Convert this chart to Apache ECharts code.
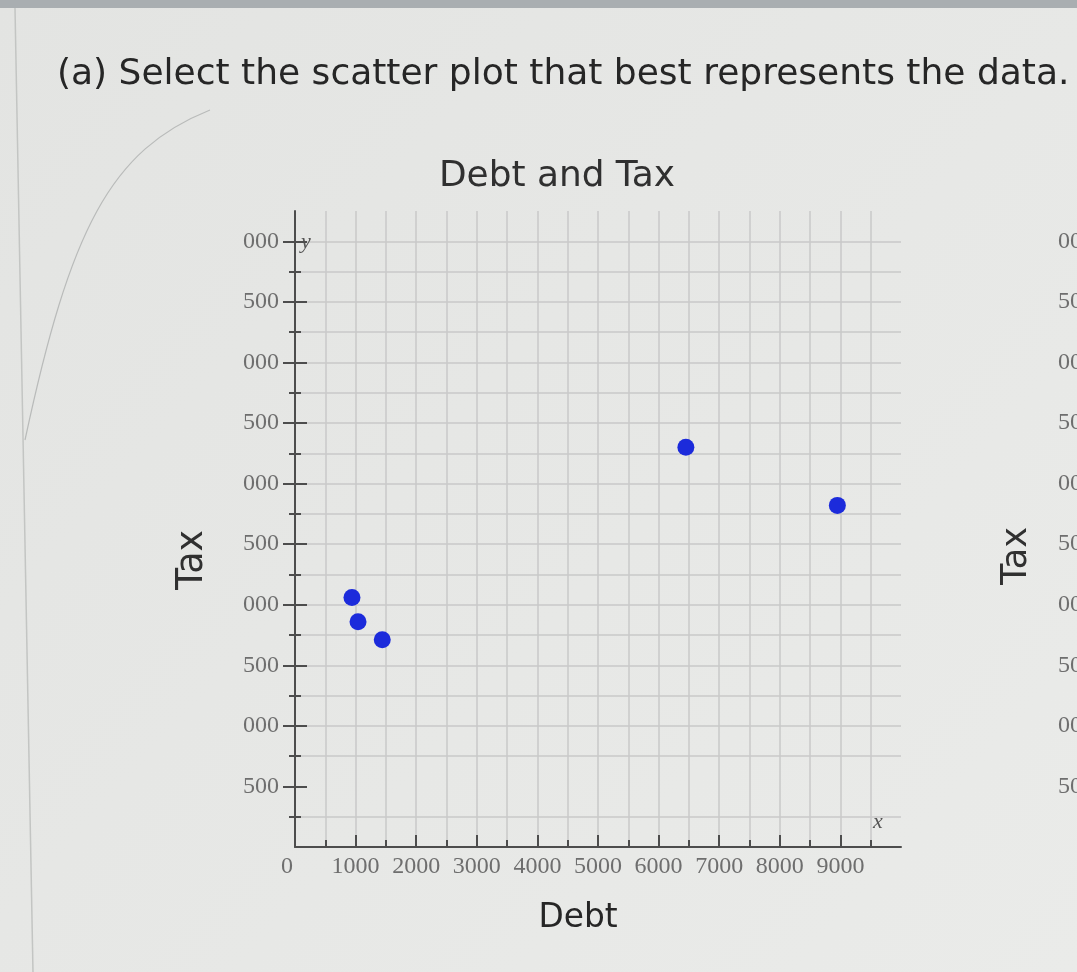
<!DOCTYPE html>
<html>
<head>
<meta charset="utf-8">
<script src="https://cdn.jsdelivr.net/npm/echarts@6/dist/echarts.min.js"></script>
<style>
  html, body { margin: 0; padding: 0; background: #e6e7e5; }
  #chart { width: 1077px; height: 972px; }
</style>
</head>
<body>
<div id="chart"></div>
<script>
// ---- data ----
const debt = [940, 1040, 1440, 6450, 8950];
const tax  = [2060, 1860, 1710, 3300, 2820];
const headingText = '(a) Select the scatter plot that best represents the data.';
const chartTitle = 'Debt and Tax';
const xAxisName = 'Debt';
const yAxisName = 'Tax';
const xRange = [0, 10000];
const yRange = [0, 5250];
const xMajorTicks = [1000, 2000, 3000, 4000, 5000, 6000, 7000, 8000, 9000];
const yMajorTicks = [500, 1000, 1500, 2000, 2500, 3000, 3500, 4000, 4500, 5000];

// ---- helpers ----
const sans = '"DejaVu Sans", Verdana, sans-serif';
const serif = '"Liberation Serif", "Times New Roman", serif';
const ctx = document.createElement('canvas').getContext('2d');
function fit(text, family, target) {
  ctx.font = '100px ' + family;
  return 100 * target / ctx.measureText(text).width;
}
const gridColor = '#c9c9c9';
const axisColor = '#4d4d4d';
const labelColor = '#6e6e6e';

function yLabel(v) {
  if (v === 0 || v % 500 !== 0) return '';
  return String(v).slice(-3);
}
function xLabel(v) {
  if (v === 0) return '{z|0}';
  if (v % 1000 !== 0 || v >= 10000) return '';
  return String(v);
}

const data = debt.map((d, i) => [d, tax[i]]);

const chart = echarts.init(document.getElementById('chart'), null, { renderer: 'canvas' });

const yBase = {
  type: 'value', min: yRange[0], max: yRange[1], interval: 500,
};

chart.setOption({
  backgroundColor: {
    type: 'linear', x: 0, y: 0, x2: 1, y2: 1,
    colorStops: [{ offset: 0, color: '#e3e4e2' }, { offset: 1, color: '#eaebe9' }]
  },
  animation: false,
  grid: [
    { left: 295, top: 211, width: 606, height: 636 },
    { left: 1110, top: 211, width: 300, height: 636 }
  ],
  xAxis: [
    {
      gridIndex: 0, type: 'value', min: xRange[0], max: xRange[1], interval: 1000,
      name: 'x', nameLocation: 'end', nameGap: -23,
      nameTextStyle: { fontFamily: serif, fontStyle: 'italic', fontSize: 22, color: '#555',
        align: 'center', verticalAlign: 'bottom', padding: [0, 0, 14, 0] },
      axisLine: { show: true, onZero: false, lineStyle: { color: axisColor, width: 2 } },
      axisTick: { show: true, inside: true, length: 12, customValues: xMajorTicks, lineStyle: { color: axisColor, width: 2 } },
      minorTick: { show: true, splitNumber: 2, length: 7, lineStyle: { color: axisColor, width: 2 } },
      axisLabel: {
        color: labelColor, fontFamily: serif, fontSize: 24, margin: 8, formatter: xLabel,
        rich: { z: { color: labelColor, fontFamily: serif, fontSize: 24, padding: [0, 16, 0, 0] } }
      },
      splitLine: { show: true, showMinLine: true, showMaxLine: true, lineStyle: { color: gridColor, width: 1.5 } },
      minorSplitLine: { show: true, lineStyle: { color: gridColor, width: 1.5 } }
    },
    { gridIndex: 1, type: 'value', min: 0, max: 10000, show: false }
  ],
  yAxis: [
    Object.assign({}, yBase, {
      gridIndex: 0, position: 'left',
      name: 'y', nameLocation: 'end', nameGap: -31,
      nameTextStyle: { fontFamily: serif, fontStyle: 'italic', fontSize: 22, color: '#555',
        align: 'left', verticalAlign: 'middle', padding: [0, 0, 0, 6] },
      axisLine: { show: true, onZero: false, lineStyle: { color: axisColor, width: 2 } },
      axisTick: { show: true, inside: false, length: 12, customValues: yMajorTicks, lineStyle: { color: axisColor, width: 2 } },
      minorTick: { show: true, splitNumber: 2, length: 6, lineStyle: { color: axisColor, width: 2 } },
      axisLabel: { color: labelColor, fontFamily: serif, fontSize: 24, margin: 16, formatter: yLabel },
      splitLine: { show: true, showMinLine: false, showMaxLine: true, lineStyle: { color: gridColor, width: 1.5 } },
      minorSplitLine: { show: true, lineStyle: { color: gridColor, width: 1.5 } }
    }),
    Object.assign({}, yBase, {
      gridIndex: 0, position: 'left',
      axisLine: { show: false },
      axisTick: { show: true, inside: true, length: 12, customValues: yMajorTicks, lineStyle: { color: axisColor, width: 2 } },
      minorTick: { show: true, splitNumber: 2, length: 6, lineStyle: { color: axisColor, width: 2 } },
      axisLabel: { show: false },
      splitLine: { show: false }
    }),
    Object.assign({}, yBase, {
      gridIndex: 1, position: 'left',
      axisLine: { show: true, lineStyle: { color: axisColor, width: 2 } },
      axisTick: { show: true, length: 12, customValues: yMajorTicks, lineStyle: { color: axisColor, width: 2 } },
      axisLabel: { color: labelColor, fontFamily: serif, fontSize: 24, margin: 16, formatter: yLabel },
      splitLine: { show: false }
    })
  ],
  series: [{
    type: 'scatter',
    xAxisIndex: 0, yAxisIndex: 0,
    data: data,
    symbol: 'circle',
    symbolSize: 17,
    itemStyle: { color: '#1c2bdb', opacity: 1 },
    z: 5
  }],
  graphic: [
    { type: 'rect', shape: { x: 0, y: 0, width: 1077, height: 8 }, style: { fill: '#a9aeb1' }, z: -1 },
    { type: 'line', shape: { x1: 15, y1: 8, x2: 33, y2: 972 }, style: { stroke: '#c3c5c3', lineWidth: 1.5 }, z: -1 },
    { type: 'bezierCurve',
      shape: { x1: 25, y1: 440, cpx1: 70, cpy1: 230, cpx2: 110, cpy2: 150, x2: 210, y2: 110 },
      style: { stroke: '#b9bbba', lineWidth: 1.2, fill: null }, z: -1 },
    { type: 'text', x: 57, y: 75,
      style: { text: headingText, fill: '#262626', font: fit(headingText, sans, 1013).toFixed(1) + 'px ' + sans,
        align: 'left', verticalAlign: 'middle', textAlign: 'left', textVerticalAlign: 'middle' } },
    { type: 'text', x: 557, y: 177,
      style: { text: chartTitle, fill: '#303030', font: fit(chartTitle, sans, 236).toFixed(1) + 'px ' + sans,
        align: 'center', verticalAlign: 'middle', textAlign: 'center', textVerticalAlign: 'middle' } },
    { type: 'text', x: 578, y: 918,
      style: { text: xAxisName, fill: '#262626', font: fit(xAxisName, sans, 79).toFixed(1) + 'px ' + sans,
        align: 'center', verticalAlign: 'middle', textAlign: 'center', textVerticalAlign: 'middle' } },
    { type: 'text', x: 193, y: 560, rotation: Math.PI / 2,
      style: { text: yAxisName, fill: '#303030', font: fit(yAxisName, sans, 60).toFixed(1) + 'px ' + sans,
        align: 'center', verticalAlign: 'middle', textAlign: 'center', textVerticalAlign: 'middle' } },
    { type: 'text', x: 1017, y: 556, rotation: Math.PI / 2,
      style: { text: yAxisName, fill: '#303030', font: fit(yAxisName, sans, 58).toFixed(1) + 'px ' + sans,
        align: 'center', verticalAlign: 'middle', textAlign: 'center', textVerticalAlign: 'middle' } }
  ]
});
</script>
</body>
</html>
